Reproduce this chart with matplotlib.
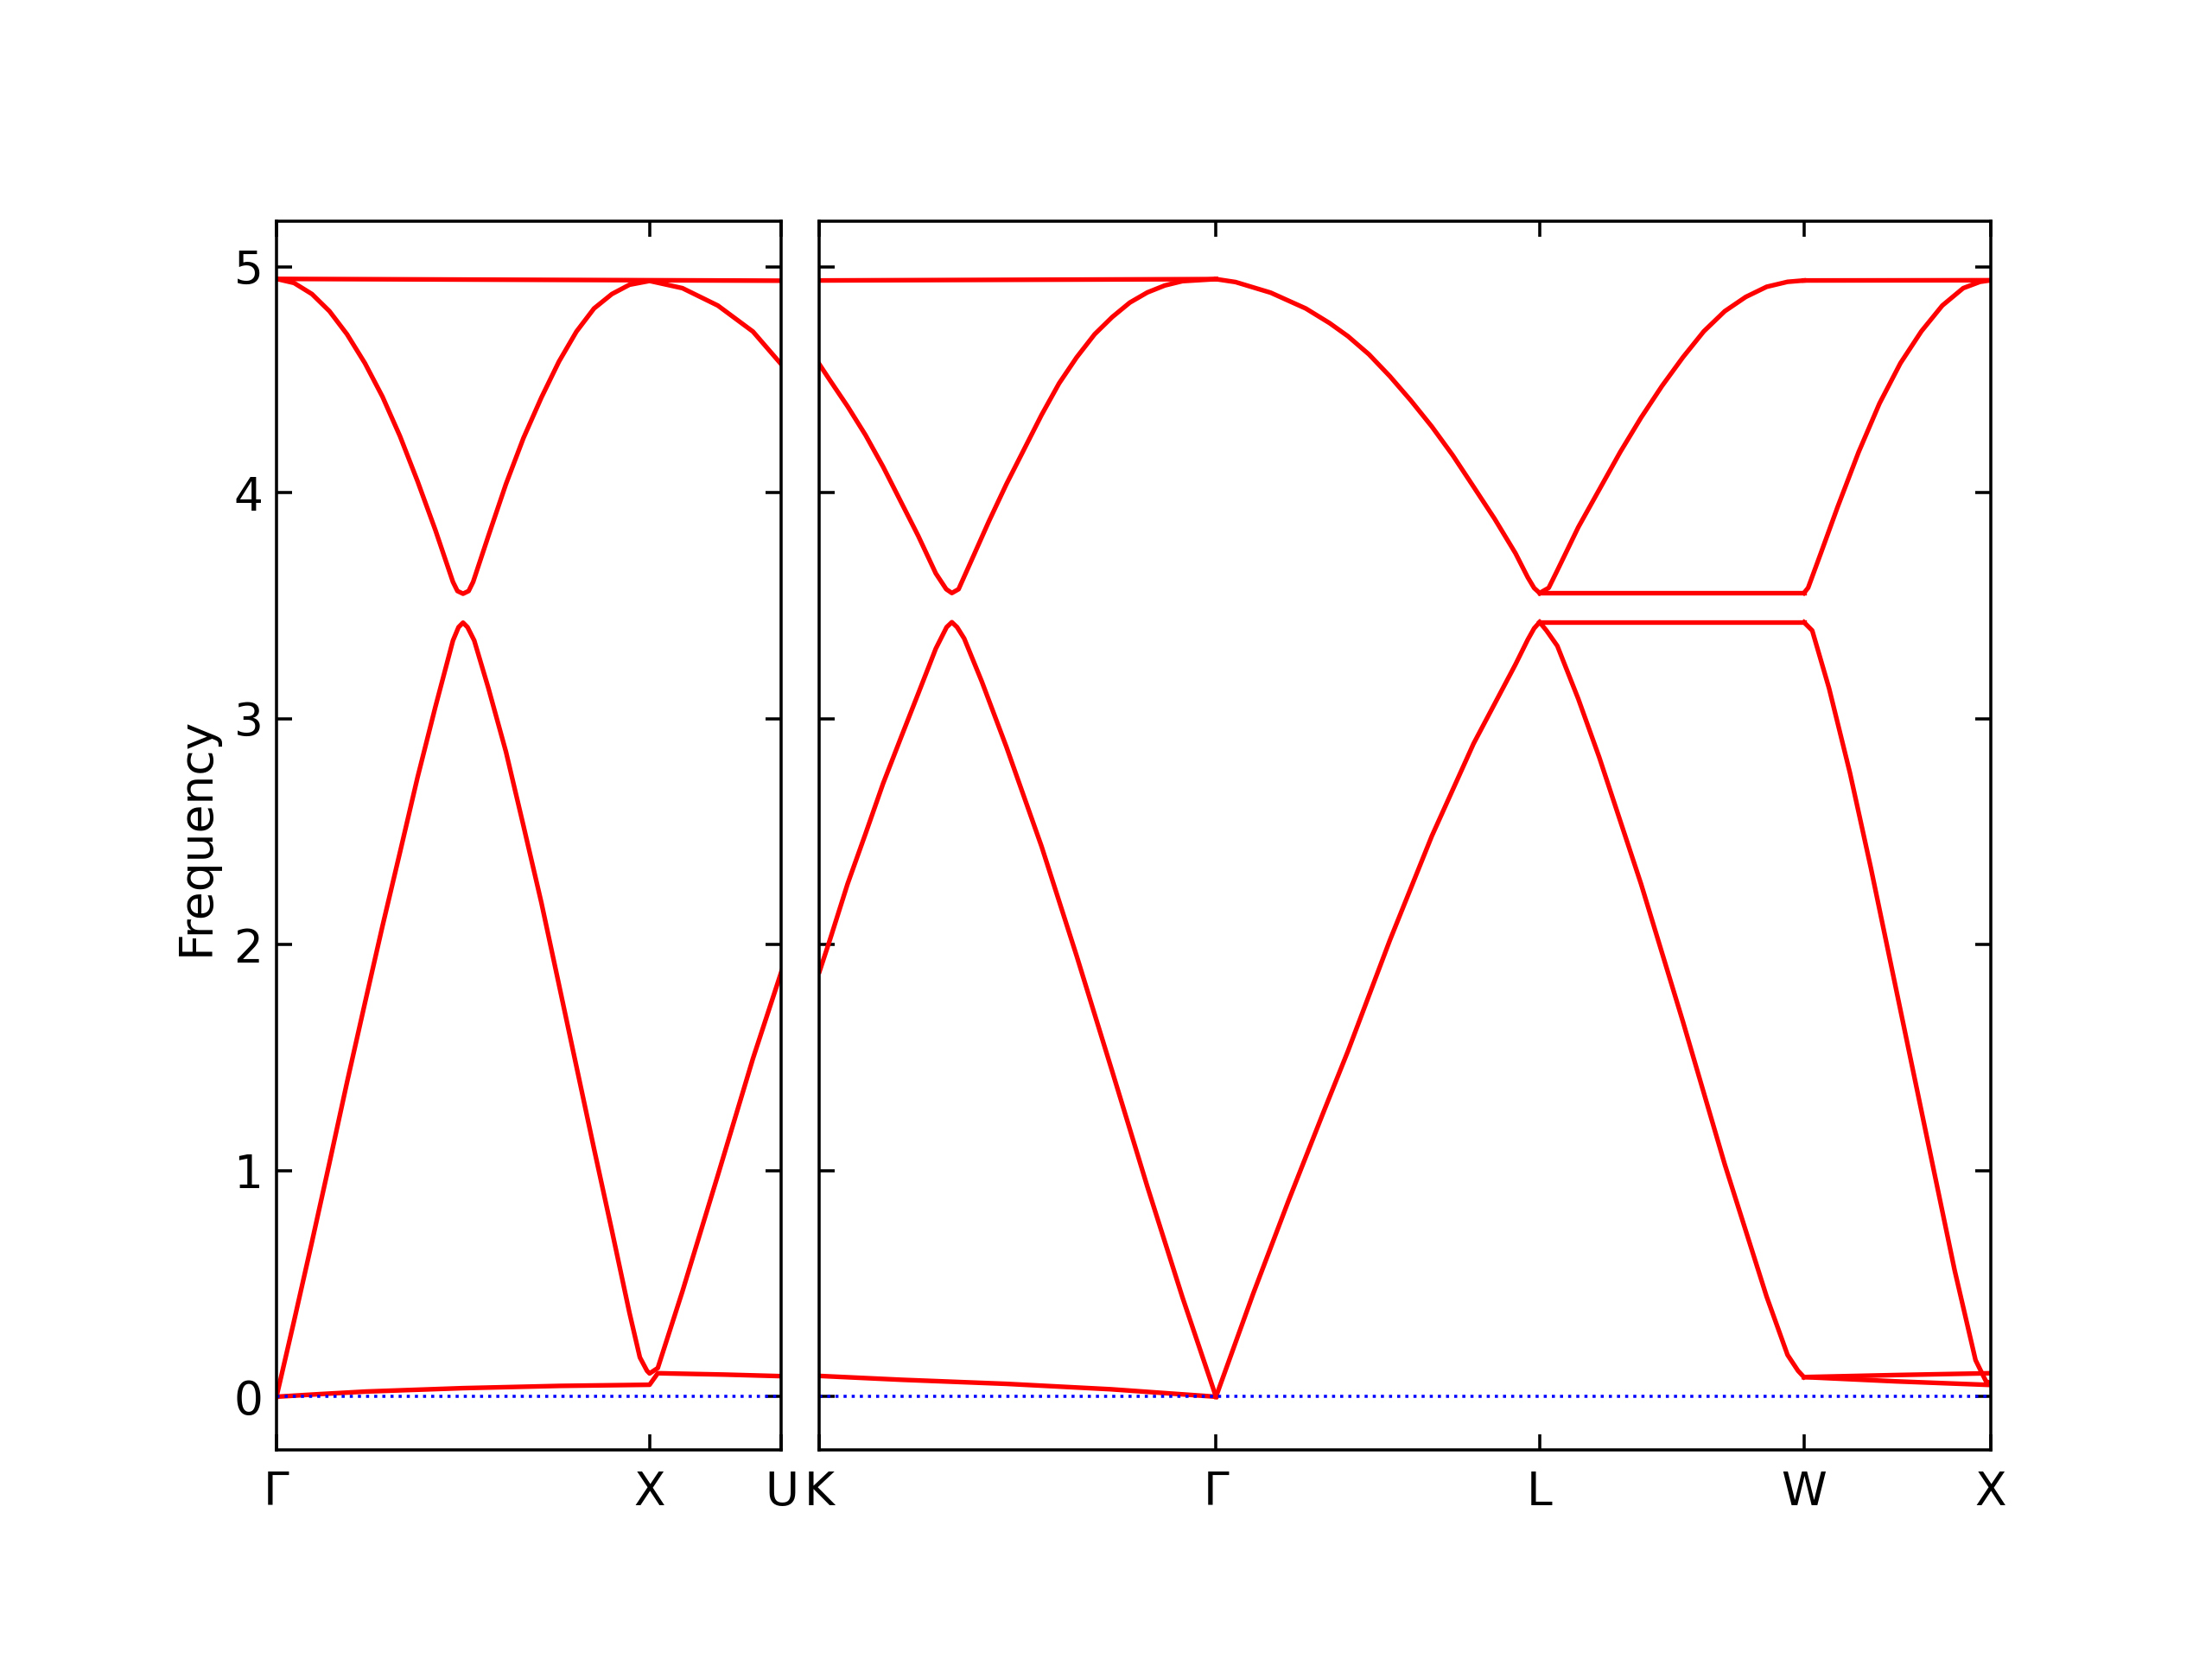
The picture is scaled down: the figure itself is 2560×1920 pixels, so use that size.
#!/usr/bin/env python3

# Phonon-like band structure, two panels: G-X-U | K-G-L-W-X

import numpy as np
import matplotlib.pyplot as plt

# --- path positions (k-distance) ---
left_ticks = [0.0, 1.0, 1.3536]
left_labels = ['Γ', 'X', 'U']
right_ticks = [0.0, 1.0607, 1.9267, 2.6338, 3.1338]
right_labels = ['K', 'Γ', 'L', 'W', 'X']

# --- left panel bands (Γ-X-U) ---
gxu_top_x = [0.0, 0.5, 1.0, 1.3536]
gxu_top_y = [4.946, 4.943, 4.940, 4.938]

gxu_opt_x = [0.0, 0.047, 0.095, 0.142, 0.189, 0.237, 0.284, 0.331, 0.378, 0.426,
             0.473, 0.485, 0.5, 0.515, 0.527, 0.568, 0.615, 0.662, 0.710, 0.757,
             0.804, 0.851, 0.899, 0.946, 1.0, 1.088, 1.183, 1.277, 1.3536]
gxu_opt_y = [4.946, 4.928, 4.879, 4.803, 4.701, 4.573, 4.425, 4.250, 4.051, 3.834,
             3.605, 3.565, 3.553, 3.565, 3.605, 3.809, 4.038, 4.242, 4.421, 4.580,
             4.713, 4.815, 4.879, 4.920, 4.937, 4.905, 4.828, 4.713, 4.567]

gxu_ac_x = [0.0, 0.047, 0.095, 0.142, 0.189, 0.237, 0.284, 0.331, 0.378, 0.426,
            0.473, 0.488, 0.5, 0.512, 0.530, 0.568, 0.615, 0.662, 0.710, 0.757,
            0.804, 0.851, 0.899, 0.946, 0.974, 0.993, 1.0, 1.022, 1.088, 1.183,
            1.277, 1.3536]
gxu_ac_y = [0.0, 0.335, 0.685, 1.035, 1.391, 1.742, 2.082, 2.409, 2.740, 3.053,
            3.346, 3.405, 3.425, 3.405, 3.346, 3.135, 2.854, 2.526, 2.186, 1.824,
            1.461, 1.098, 0.735, 0.372, 0.174, 0.115, 0.103, 0.127, 0.466, 0.98,
            1.496, 1.882]

gxu_low_x = [0.0, 0.12, 0.24, 0.5, 0.76, 1.0, 1.022, 1.2, 1.3536]
gxu_low_y = [0.0, 0.012, 0.023, 0.038, 0.048, 0.053, 0.104, 0.098, 0.091]

# --- right panel bands (K-Γ-L-W-X) ---
kg_top_x = [0.0, 0.53, 1.0607]
kg_top_y = [4.939, 4.942, 4.945]

kg_opt_x = [0.0, 0.028, 0.075, 0.123, 0.170, 0.217, 0.264, 0.311, 0.339, 0.354,
            0.372, 0.415, 0.453, 0.5, 0.547, 0.594, 0.641, 0.688, 0.736, 0.783,
            0.830, 0.877, 0.924, 0.971, 1.0607]
kg_opt_y = [4.567, 4.497, 4.382, 4.255, 4.115, 3.962, 3.809, 3.643, 3.573, 3.556,
            3.573, 3.732, 3.873, 4.038, 4.191, 4.344, 4.484, 4.599, 4.701, 4.777,
            4.841, 4.886, 4.917, 4.936, 4.945]

kg_ac_x = [0.0, 0.028, 0.075, 0.123, 0.170, 0.217, 0.264, 0.311, 0.340, 0.354,
           0.368, 0.387, 0.434, 0.5, 0.594, 0.688, 0.783, 0.877, 0.971, 1.0607]
kg_ac_y = [1.882, 2.023, 2.269, 2.491, 2.713, 2.913, 3.111, 3.31, 3.405, 3.427,
           3.405, 3.355, 3.165, 2.875, 2.435, 1.950, 1.440, 0.930, 0.440, 0.0]

kg_low_x = [0.0, 0.22, 0.5, 0.78, 1.0607]
kg_low_y = [0.092, 0.075, 0.057, 0.033, 0.0]

gl_opt_x = [1.0607, 1.113, 1.207, 1.301, 1.365, 1.414, 1.470, 1.526, 1.582, 1.638,
            1.694, 1.750, 1.806, 1.862, 1.895, 1.912, 1.9267]
gl_opt_y = [4.945, 4.932, 4.885, 4.815, 4.750, 4.692, 4.612, 4.515, 4.408, 4.293,
            4.166, 4.026, 3.885, 3.732, 3.625, 3.578, 3.556]

gl_ac_x = [1.0607, 1.160, 1.254, 1.349, 1.414, 1.526, 1.638, 1.750, 1.862, 1.895,
           1.912, 1.9267]
gl_ac_y = [0.0, 0.455, 0.864, 1.262, 1.530, 2.020, 2.480, 2.890, 3.240, 3.350,
           3.400, 3.427]

lw_opt_x = [1.9267, 1.951, 1.974, 2.030, 2.086, 2.142, 2.198, 2.254, 2.310, 2.366,
            2.422, 2.478, 2.534, 2.590, 2.6338]
lw_opt_y = [3.556, 3.579, 3.656, 3.847, 4.013, 4.179, 4.332, 4.472, 4.599, 4.714,
            4.803, 4.866, 4.911, 4.933, 4.939]

lw_hi_x = [1.9267, 2.6338]
lw_hi_y = [3.556, 3.556]
lw_lo_x = [1.9267, 2.6338]
lw_lo_y = [3.427, 3.427]

lw_ac_x = [1.9267, 1.945, 1.974, 2.030, 2.086, 2.198, 2.310, 2.422, 2.534, 2.590,
           2.618, 2.6338]
lw_ac_y = [3.427, 3.39, 3.322, 3.088, 2.83, 2.269, 1.66, 1.028, 0.443, 0.185,
           0.115, 0.087]

wx_top_x = [2.6338, 3.1338]
wx_top_y = [4.939, 4.940]

wx_opt_x = [2.6338, 2.645, 2.679, 2.724, 2.780, 2.836, 2.892, 2.948, 3.004, 3.060,
            3.105, 3.1338]
wx_opt_y = [3.556, 3.579, 3.732, 3.937, 4.179, 4.395, 4.573, 4.714, 4.828, 4.905,
            4.933, 4.94]

wx_ac_x = [2.6338, 2.656, 2.701, 2.757, 2.813, 2.869, 2.925, 2.981, 3.037, 3.093,
           3.121, 3.1338]
wx_ac_y = [3.427, 3.39, 3.135, 2.76, 2.339, 1.894, 1.449, 1.004, 0.56, 0.162,
           0.068, 0.06]

wx_low1_x = [2.6338, 2.88, 3.1338]
wx_low1_y = [0.087, 0.096, 0.104]
wx_low2_x = [2.6338, 2.88, 3.1338]
wx_low2_y = [0.087, 0.068, 0.052]

left_bands = [(gxu_top_x, gxu_top_y), (gxu_opt_x, gxu_opt_y),
              (gxu_ac_x, gxu_ac_y), (gxu_low_x, gxu_low_y)]
right_bands = [(kg_top_x, kg_top_y), (kg_opt_x, kg_opt_y), (kg_ac_x, kg_ac_y),
               (kg_low_x, kg_low_y), (gl_opt_x, gl_opt_y), (gl_ac_x, gl_ac_y),
               (lw_opt_x, lw_opt_y), (lw_hi_x, lw_hi_y), (lw_lo_x, lw_lo_y),
               (lw_ac_x, lw_ac_y), (wx_top_x, wx_top_y), (wx_opt_x, wx_opt_y),
               (wx_ac_x, wx_ac_y), (wx_low1_x, wx_low1_y), (wx_low2_x, wx_low2_y)]

plt.rcParams['font.size'] = 12

fig = plt.figure(figsize=(8, 6), dpi=320)
ax1 = fig.add_axes([0.125, 0.1258, 0.2283, 0.7407])
ax2 = fig.add_axes([0.3705, 0.1258, 0.5295, 0.7407])

for ax, bands, ticks, labels in [(ax1, left_bands, left_ticks, left_labels),
                                 (ax2, right_bands, right_ticks, right_labels)]:
    for xs, ys in bands:
        ax.plot(xs, ys, color='r', linewidth=1.2, solid_joinstyle='round')
    ax.axhline(0, color='b', linestyle=':', linewidth=0.8)
    ax.set_xlim(ticks[0], ticks[-1])
    ax.set_ylim(-0.237, 5.2)
    ax.set_xticks(ticks)
    ax.set_xticklabels(labels)
    ax.set_yticks([0, 1, 2, 3, 4, 5])
    ax.tick_params(direction='in', length=4, top=True, right=True, labelsize=12)
    ax.tick_params(axis='x', pad=5)

ax2.set_yticklabels([])
ax1.set_ylabel('Frequency', fontsize=12)

fig.savefig('out.png', dpi=320)
